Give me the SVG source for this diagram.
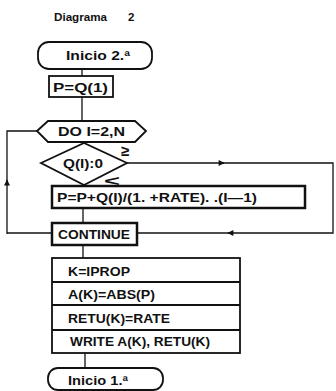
<svg xmlns="http://www.w3.org/2000/svg" width="336" height="391" viewBox="0 0 336 391">
<defs>
<marker id="ah" viewBox="0 0 10 10" refX="9" refY="5" markerWidth="7" markerHeight="6" markerUnits="userSpaceOnUse" orient="auto">
<path d="M0,0 L10,5 L0,10 z" fill="#111"/>
</marker>
</defs>
<style>
.s{fill:#fff;stroke:#111;stroke-width:1.8}
.b{fill:#fff;stroke:#111;stroke-width:2.5}
.c{fill:none;stroke:#111;stroke-width:1.3}
text{font-family:"Liberation Sans",Arial,sans-serif;font-weight:bold;font-size:13px;fill:#111}
</style>
<rect width="336" height="391" fill="#fff"/>
<text x="54" y="21" style="font-size:11.5px" textLength="53" lengthAdjust="spacingAndGlyphs">Diagrama</text>
<text x="128" y="21" style="font-size:11.5px">2</text>
<g id="connectors">
<line class="c" x1="82" y1="69" x2="82" y2="76"/>
<line class="c" x1="82" y1="97" x2="82" y2="121"/>
<polyline class="c" points="37,131 7,131 7,182"/>
<line class="c" x1="7" y1="234" x2="7" y2="180" marker-end="url(#ah)"/>
<line class="c" x1="7" y1="233" x2="52" y2="233"/>
<line class="c" x1="127" y1="163" x2="224" y2="163" marker-end="url(#ah)"/>
<polyline class="c" points="222,163 333,163 333,233 232,233"/>
<line class="c" x1="233" y1="233" x2="228" y2="233" marker-end="url(#ah)"/>
<line class="c" x1="230" y1="233" x2="137" y2="233"/>
<line class="c" x1="83" y1="208" x2="83" y2="223"/>
<line class="c" x1="83" y1="245" x2="83" y2="258"/>
<line class="c" x1="85" y1="353" x2="85" y2="368"/>
<text x="121" y="156" style="font-size:15px">≥</text>
<text x="104" y="186" style="font-size:14px" textLength="16" lengthAdjust="spacingAndGlyphs">&lt;</text>
</g>
<g id="inicio2">
<rect class="s" x="38" y="42" width="114" height="27" rx="11"/>
<text x="66" y="60" textLength="64" lengthAdjust="spacingAndGlyphs">Inicio 2.ª</text>
</g>
<g id="pq1">
<rect class="s" x="49" y="76" width="64" height="21"/>
<text x="53" y="92" textLength="55" lengthAdjust="spacingAndGlyphs">P=Q(1)</text>
</g>
<g id="do">
<polygon class="s" points="37,131 48,121 135,121 146,131 135,142 48,142"/>
<text x="58" y="136" textLength="67" lengthAdjust="spacingAndGlyphs">DO I=2,N</text>
</g>
<g id="decision">
<polygon class="s" points="41,163 84,143 127,163 84,185"/>
<text x="63" y="168" textLength="40" lengthAdjust="spacingAndGlyphs">Q(I):0</text>
</g>
<g id="assign">
<rect class="b" x="52" y="186" width="253" height="22"/>
<text x="57" y="202" textLength="200" lengthAdjust="spacingAndGlyphs">P=P+Q(I)/(1. +RATE). .(I—1)</text>
</g>
<g id="continue">
<rect class="b" x="52" y="223" width="85" height="22"/>
<text x="58" y="239" textLength="72" lengthAdjust="spacingAndGlyphs">CONTINUE</text>
</g>
<g id="block">
<rect class="s" x="52" y="258" width="188" height="95"/>
<line class="s" x1="52" y1="282" x2="240" y2="282"/>
<line class="s" x1="52" y1="305" x2="240" y2="305"/>
<line class="s" x1="52" y1="330" x2="240" y2="330"/>
<text x="68" y="276" textLength="62" lengthAdjust="spacingAndGlyphs">K=IPROP</text>
<text x="68" y="299" textLength="87" lengthAdjust="spacingAndGlyphs">A(K)=ABS(P)</text>
<text x="68" y="323" textLength="102" lengthAdjust="spacingAndGlyphs">RETU(K)=RATE</text>
<text x="70" y="346" textLength="140" lengthAdjust="spacingAndGlyphs">WRITE A(K), RETU(K)</text>
</g>
<g id="inicio1">
<rect class="s" x="48" y="368" width="115" height="22" rx="10"/>
<text x="68" y="385" textLength="60" lengthAdjust="spacingAndGlyphs">Inicio 1.ª</text>
</g>
</svg>
